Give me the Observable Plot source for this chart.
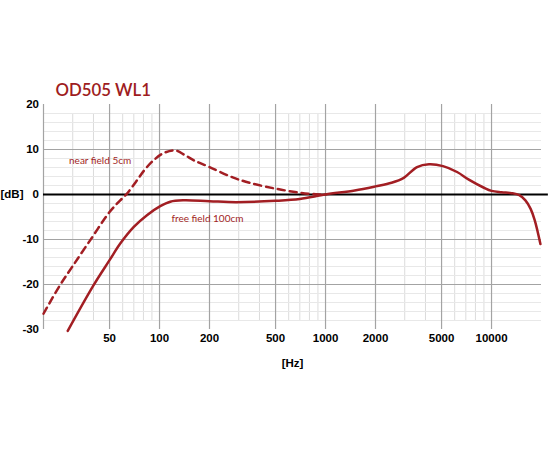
<!DOCTYPE html>
<html><head><meta charset="utf-8">
<script src="https://cdn.jsdelivr.net/npm/d3@7"></script>
<script src="https://cdn.jsdelivr.net/npm/@observablehq/plot@0.6"></script>
<style>body{margin:0;background:#fff}</style>
</head><body><div id="chart"></div>
<script>
const title = "OD505 WL1";
const nearFreq = [20, 25, 30, 38, 50, 58, 63, 72, 81, 92, 106, 124, 143, 161, 200, 276, 349, 500, 697, 875, 1000];
const nearDb   = [-26.5, -20.3, -15.9, -10.3, -3.9, -1.3, 0, 2.8, 5.4, 7.6, 9.2, 9.8, 8.7, 7.6, 6.1, 3.8, 2.6, 1.3, 0.4, 0.05, 0];
const freeFreq = [28, 40, 50, 58, 70, 84, 101, 116, 140, 200, 290, 500, 700, 1000, 1500, 2000, 2500, 2960, 3560, 4200, 5100, 6200, 7300, 9000, 10000, 11500, 13200, 14700, 16000, 17200, 18200, 19700];
const freeDb   = [-30.3, -20.2, -14.6, -10.9, -7.2, -4.6, -2.6, -1.6, -1.3, -1.5, -1.7, -1.4, -1.0, 0, 0.9, 1.8, 2.6, 3.7, 6.1, 6.7, 6.3, 5.0, 3.3, 1.5, 0.8, 0.5, 0.3, -0.15, -1.3, -3.2, -5.7, -11];
const xTicks = [50, 100, 200, 500, 1000, 2000, 5000, 10000];
const xMajorGrid = [20, 50, 100, 200, 500, 1000, 2000, 5000, 10000];
const xMinorGrid = [30, 40, 60, 70, 80, 90, 300, 400, 600, 700, 800, 900, 3000, 4000, 6000, 7000, 8000, 9000];
const yTicks = [-30, -20, -10, 0, 10, 20];
const yMajorGrid = [-20, -10, 10];
const yMinorGrid = [-28, -26, -24, -22, -18, -16, -14, -12, -8, -6, -4, -2, 2, 4, 6, 8, 12, 14, 16, 18];
const seriesLabels = ["near field 5cm", "free field 100cm"];
const labelFreq = [28.5, 118];
const labelDb = [7.4, -5.3];

const red = "#a21e23";
const near = nearFreq.map((f, i) => ({f, db: nearDb[i]}));
const free = freeFreq.map((f, i) => ({f, db: freeDb[i]}));
const labels = seriesLabels.map((t, i) => ({t, f: labelFreq[i], db: labelDb[i]}));
const bold = {fontWeight: "bold", fontSize: 11.5, fill: "#000"};

const chart = Plot.plot({
  width: 550, height: 450,
  marginLeft: 43, marginRight: 9, marginTop: 104, marginBottom: 121,
  style: {fontFamily: "'Liberation Sans', Arial, sans-serif", background: "#fff", overflow: "visible"},
  x: {type: "log", domain: [20, 20000], axis: null},
  y: {domain: [-30, 20], axis: null},
  marks: [
    Plot.ruleX(xMinorGrid, {y1: -28, y2: 18, stroke: "#dcdcdc", strokeWidth: 1}),
    Plot.ruleY(yMinorGrid, {x1: 20, x2: 20000, stroke: "#e8e8e8", strokeWidth: 1}),
    Plot.ruleX(xMajorGrid, {y1: -30, y2: 20, stroke: "#a3a3a3", strokeWidth: 1.2}),
    Plot.ruleY(yMajorGrid, {x1: 20, x2: 20000, stroke: "#a3a3a3", strokeWidth: 1.2}),
    Plot.ruleY([0], {x1: 20, x2: 22000, stroke: "#000", strokeWidth: 2}),
    Plot.text(xTicks, {x: d => d, text: d => String(d), frameAnchor: "bottom", dy: 12, ...bold}),
    Plot.text(yTicks, {y: d => d, text: d => String(d), frameAnchor: "left", dx: -4.5, textAnchor: "end", ...bold}),
    Plot.text([{t: "[dB]", v: 0}], {y: "v", text: "t", frameAnchor: "left", dx: -43, textAnchor: "start", ...bold}),
    Plot.text(["[Hz]"], {text: d => d, frameAnchor: "bottom", dy: 37, ...bold}),
    Plot.text([title], {text: d => d, frameAnchor: "top-left", dx: 12, dy: -9, lineAnchor: "bottom", textAnchor: "start", fontSize: 16.8, fontWeight: 600, fontFamily: "Lato, sans-serif", fill: "#9e1c21"}),
    Plot.line(near, {x: "f", y: "db", curve: "catmull-rom", stroke: red, strokeWidth: 2.5, strokeDasharray: "7,5"}),
    Plot.line(free, {x: "f", y: "db", curve: "catmull-rom", stroke: red, strokeWidth: 2.5}),
    Plot.text(labels, {x: "f", y: "db", text: "t", textAnchor: "start", fill: red, fontSize: 10, fontFamily: "Lato, sans-serif"})
  ]
});
document.getElementById("chart").append(chart);
</script>
</body></html>
